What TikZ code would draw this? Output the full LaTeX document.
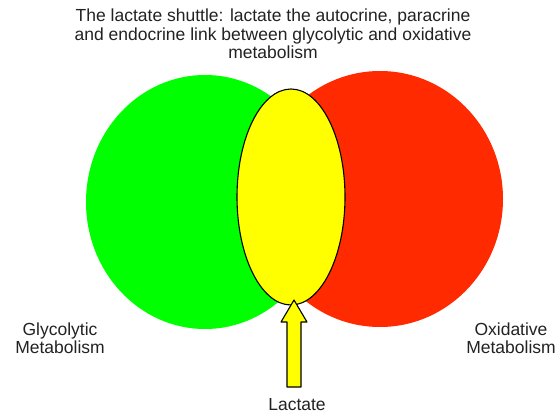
\documentclass[tikz,border=0pt]{standalone}
\usepackage{fontspec}
\setmainfont{Liberation Sans}
\usetikzlibrary{shapes.geometric}
\definecolor{glyc}{HTML}{00FF00}
\definecolor{oxid}{HTML}{FF2A00}
\definecolor{lac}{HTML}{FFFF00}
\definecolor{txt}{HTML}{222222}
\tikzset{
  blob/.style={ellipse, inner sep=0pt, draw=none},
  label text/.style={text=txt, align=center, font=\fontsize{17.5}{18.5}\selectfont, inner sep=0pt},
  lacfill/.style={fill=lac, draw=black, line width=1.1pt, line join=round}
}
\begin{document}
\begin{tikzpicture}[x=1pt,y=-1pt]
\useasboundingbox (0,0) rectangle (560,415);
\node[blob, fill=glyc, minimum width=238pt, minimum height=254pt] (green) at (205,202) {};
\node[blob, fill=oxid, minimum width=246pt, minimum height=256pt] (red) at (380,199) {};
\node[ellipse, inner sep=0pt, lacfill, minimum width=108pt, minimum height=216pt] (yel) at (291,197) {};
\coordinate (tip) at (294,300);
\draw[lacfill] (tip) -- (281,322) -- (287,322) -- (287,387) -- (301,387) -- (301,322) -- (307,322) -- cycle;
\node[label text, anchor=north] (title) at (273,9) {The lactate shuttle: lactate the autocrine, paracrine\\and endocrine link between glycolytic and oxidative\\metabolism};
\node[label text] (glab) at (60,338) {Glycolytic\\Metabolism};
\node[label text] (olab) at (511,338) {Oxidative\\Metabolism};
\node[label text, anchor=base] (llab) at (297,410) {Lactate};
\end{tikzpicture}
\end{document}
